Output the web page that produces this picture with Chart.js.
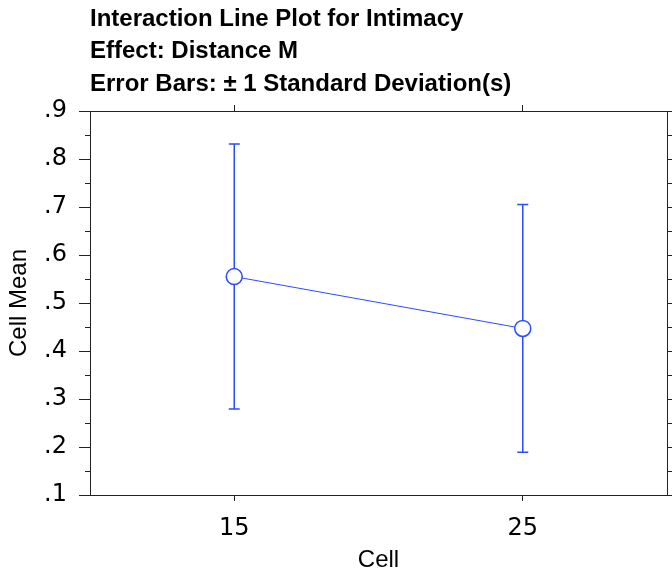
<!DOCTYPE html>
<html>
<head>
<meta charset="utf-8">
<script src="https://cdn.jsdelivr.net/npm/chart.js@4/dist/chart.umd.min.js"></script>
<style>
  html, body { margin: 0; padding: 0; background: #fff; }
  #wrap { width: 672px; height: 577px; }
</style>
</head>
<body>
<div id="wrap"><canvas id="c" width="672" height="577"></canvas></div>
<script>
// ---- data ----
const titleLines = ['Interaction Line Plot for Intimacy', 'Effect: Distance M', 'Error Bars: \u00B1 1 Standard Deviation(s)'];
const cells = [15, 25];
const cellMeans = [0.555, 0.447];
const cellSDs = [0.276, 0.258];
const yMin = 0.1, yMax = 0.9;
const xMin = 10, xMax = 30;
const xTitle = 'Cell';
const yTitle = 'Cell Mean';

const BLUE = '#2a4bff';
const AXIS = '#222';
const FONT = "'Liberation Sans', Arial, sans-serif";
const TICKFONT = "'DejaVu Sans', 'Liberation Sans', sans-serif";

function fixSize(prop, size) {
  return s => {
    s[prop] = size;
    s.paddingLeft = 0; s.paddingRight = 0; s.paddingTop = 0; s.paddingBottom = 0;
  };
}

const errorBars = {
  id: 'errorBars',
  beforeDatasetsDraw(chart) {
    const ctx = chart.ctx, xs = chart.scales.x, ys = chart.scales.y;
    ctx.save();
    ctx.strokeStyle = BLUE;
    ctx.lineWidth = 1.5;
    cells.forEach((c, i) => {
      const px = xs.getPixelForValue(c);
      const top = ys.getPixelForValue(cellMeans[i] + cellSDs[i]);
      const bot = ys.getPixelForValue(cellMeans[i] - cellSDs[i]);
      ctx.beginPath();
      ctx.moveTo(px, top); ctx.lineTo(px, bot);
      ctx.moveTo(px - 5.5, top); ctx.lineTo(px + 5.5, top);
      ctx.moveTo(px - 5.5, bot); ctx.lineTo(px + 5.5, bot);
      ctx.stroke();
    });
    ctx.restore();
  },
  afterDraw(chart) {
    // minor ticks on the left axis
    const ctx = chart.ctx, ys = chart.scales.y;
    const left = chart.chartArea.left;
    ctx.save();
    ctx.strokeStyle = AXIS;
    ctx.lineWidth = 1;
    for (let v = yMin + 0.05; v < yMax; v += 0.1) {
      const py = Math.round(ys.getPixelForValue(v)) + 0.5;
      ctx.beginPath();
      ctx.moveTo(left - 5, py); ctx.lineTo(left, py);
      ctx.stroke();
    }
    ctx.restore();
  }
};

new Chart(document.getElementById('c'), {
  type: 'scatter',
  data: {
    datasets: [{
      data: cells.map((c, i) => ({ x: c, y: cellMeans[i] })),
      showLine: true,
      borderColor: BLUE,
      borderWidth: 1,
      pointRadius: 8,
      pointBorderWidth: 1.5,
      pointBackgroundColor: '#fff',
      pointBorderColor: BLUE,
      pointHoverRadius: 8
    }]
  },
  options: {
    responsive: false,
    animation: false,
    events: [],
    layout: { padding: 0, autoPadding: false },
    plugins: {
      legend: { display: false },
      tooltip: { enabled: false },
      title: {
        display: true,
        text: titleLines,
        align: 'start',
        fullSize: false,
        color: '#000',
        font: { family: FONT, size: 24, weight: 'bold', lineHeight: '32.5px' },
        padding: { top: 3, bottom: 4.5 }
      }
    },
    scales: {
      x: {
        type: 'linear', position: 'bottom', min: xMin, max: xMax,
        afterBuildTicks: s => { s.ticks = cells.map(v => ({ value: v })); },
        afterFit: fixSize('height', 82),
        grid: { drawOnChartArea: false, tickLength: 6, color: AXIS, tickColor: AXIS },
        border: { color: AXIS, width: 1 },
        ticks: { color: '#000', padding: 13, font: { family: TICKFONT, size: 24 }, maxRotation: 0 },
        title: { display: true, text: xTitle, color: '#000', font: { family: FONT, size: 24 }, padding: { top: 0, bottom: 2 } }
      },
      x2: {
        type: 'linear', position: 'top', min: xMin, max: xMax,
        afterBuildTicks: s => { s.ticks = cells.map(v => ({ value: v })); },
        afterFit: fixSize('height', 6),
        grid: { drawOnChartArea: false, tickLength: 6, color: AXIS, tickColor: AXIS },
        border: { color: AXIS, width: 1 },
        ticks: { display: false }
      },
      y: {
        type: 'linear', position: 'left', min: yMin, max: yMax,
        afterFit: fixSize('width', 90),
        grid: { drawOnChartArea: false, tickLength: 11, color: AXIS, tickColor: AXIS },
        border: { color: AXIS, width: 1 },
        ticks: {
          stepSize: 0.1, color: '#000', padding: 12,
          font: { family: TICKFONT, size: 24 },
          callback: v => v.toFixed(1).replace(/^0/, '')
        },
        title: { display: true, text: yTitle, color: '#000', font: { family: FONT, size: 24 }, padding: { top: 5, bottom: 0 } }
      },
      y2: {
        type: 'linear', position: 'right', min: yMin, max: yMax,
        afterFit: fixSize('width', 5),
        grid: { drawOnChartArea: false, tickLength: 5, color: AXIS, tickColor: AXIS },
        border: { color: AXIS, width: 1 },
        ticks: { display: false, stepSize: 0.05 }
      }
    }
  },
  plugins: [errorBars]
});
</script>
</body>
</html>
